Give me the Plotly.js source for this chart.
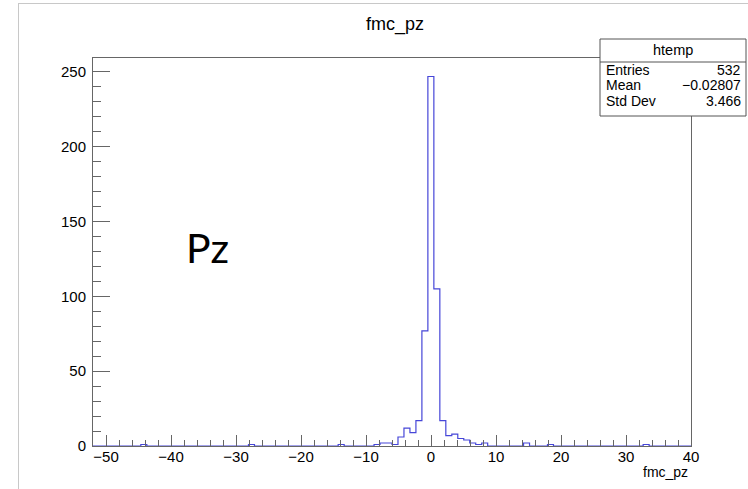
<!DOCTYPE html>
<html>
<head>
<meta charset="utf-8">
<script src="https://cdn.plot.ly/plotly-3.0.1.min.js"></script>
<style>
  html, body { margin: 0; padding: 0; background: #ffffff; }
  #wrap { position: absolute; left: 18px; top: 3px; width: 730px; height: 486px;
          border-left: 1px solid #c8c8c8; border-top: 1px solid #c8c8c8; }
  #chart { width: 729px; height: 485px; }
</style>
</head>
<body>
<div id="wrap"><div id="chart"></div></div>
<script>
// ---- Data (histogram htemp of fmc_pz, 100 bins) ----
const binLow = -52;
const binWidth = 0.92;
const binCounts = [
  0,0,0,0,0,0,0,0,1,0,
  0,0,0,0,0,0,0,0,0,0,
  0,0,0,0,0,0,1,0,0,0,
  0,0,0,0,0,0,0,0,0,0,
  0,1,0,0,0,0,0,1,2,2,
  1,6,12,9,17,77,247,105,17,7,
  8,5,4,2,1,2,0,0,0,0,
  0,0,2,0,0,0,1,0,0,0,
  0,0,0,0,0,0,0,0,0,0,
  0,0,1,0,0,0,0,0,0,0
];
const xTickVals = [-50, -40, -30, -20, -10, 0, 10, 20, 30, 40];
const yTickVals = [0, 50, 100, 150, 200, 250];
const statsLabels = ["Entries", "Mean", "Std Dev"];
const statsValues = ["532", "\u22120.02807", "3.466"];
const histName = "htemp";
const chartTitle = "fmc_pz";
const xTitle = "fmc_pz";
const overlayText = "Pz";

// ---- Step outline built from bins ----
const edges = binCounts.map((_, i) => binLow + i * binWidth);
edges.push(binLow + binCounts.length * binWidth);
const sx = [edges[0]], sy = [0];
binCounts.forEach((c, i) => { sx.push(edges[i]); sy.push(c); });
sx.push(edges[edges.length - 1]); sy.push(binCounts[binCounts.length - 1]);
sx.push(edges[edges.length - 1]); sy.push(0);

const ymax = Math.max(...binCounts) * 1.05;

// page-pixel -> paper helpers (plot area on page: x 93..691, y 58..446)
const PX0 = 93, PX1 = 691, PY0 = 58, PY1 = 446;
const xp = p => (p - PX0) / (PX1 - PX0);
const yp = p => (PY1 - p) / (PY1 - PY0);

const font = "'Liberation Sans', Arial, Helvetica, sans-serif";
const axisCol = "#666666";

const trace = {
  type: "scatter", mode: "lines", x: sx, y: sy,
  line: { shape: "hv", color: "#4646d8", width: 1.2 },
  hoverinfo: "skip", showlegend: false
};

// stats box geometry
const bx0 = 600, bx1 = 746, byTop = 39, bySep = 62, byBot = 116;
const rowY = [69.5, 85, 100.5];

const shapes = [
  { type: "rect", xref: "paper", yref: "paper", x0: xp(bx0), x1: xp(bx1), y0: yp(byBot), y1: yp(byTop),
    line: { color: "#555555", width: 1 }, fillcolor: "#ffffff", layer: "above" },
  { type: "line", xref: "paper", yref: "paper", x0: xp(bx0), x1: xp(bx1), y0: yp(bySep), y1: yp(bySep),
    line: { color: "#555555", width: 1 }, layer: "above" }
];

const annotations = [
  { text: chartTitle, xref: "paper", yref: "paper", x: xp(395), y: yp(24), showarrow: false,
    xanchor: "center", yanchor: "middle", font: { family: font, size: 18, color: "#000" } },
  { text: xTitle, xref: "paper", yref: "paper", x: xp(690), y: yp(472), showarrow: false,
    xanchor: "right", yanchor: "middle", font: { family: font, size: 14, color: "#000" } },
  { text: overlayText, xref: "paper", yref: "paper", x: xp(184), y: yp(247), showarrow: false,
    xanchor: "left", yanchor: "middle", font: { family: "Lato, 'Noto Sans', sans-serif", size: 41, color: "#000" } },
  { text: histName, xref: "paper", yref: "paper", x: xp((bx0 + bx1) / 2), y: yp(50), showarrow: false,
    xanchor: "center", yanchor: "middle", font: { family: font, size: 14.5, color: "#000" } }
];
statsLabels.forEach((lab, i) => {
  annotations.push({ text: lab, xref: "paper", yref: "paper", x: xp(bx0 + 4), y: yp(rowY[i]), showarrow: false,
    xanchor: "left", yanchor: "middle", font: { family: font, size: 14, color: "#000" } });
  annotations.push({ text: statsValues[i], xref: "paper", yref: "paper", x: xp(bx1 - 3), y: yp(rowY[i]), showarrow: false,
    xanchor: "right", yanchor: "middle", font: { family: font, size: 14, color: "#000" } });
});

const layout = {
  width: 729, height: 485,
  margin: { l: 74, r: 57, t: 54, b: 43, pad: 0 },
  paper_bgcolor: "#ffffff", plot_bgcolor: "#ffffff",
  showlegend: false,
  xaxis: {
    range: [binLow, binLow + binCounts.length * binWidth],
    tickmode: "array", tickvals: xTickVals,
    ticks: "inside", ticklen: 11, tickwidth: 1, tickcolor: axisCol,
    minor: { dtick: 2, tick0: 0, ticks: "inside", ticklen: 6, tickwidth: 1, tickcolor: axisCol, showgrid: false },
    showgrid: false, zeroline: false,
    showline: true, linecolor: axisCol, linewidth: 1, mirror: true,
    tickfont: { family: font, size: 15, color: "#000" },
    ticklabelstandoff: -3
  },
  yaxis: {
    range: [0, ymax],
    tickmode: "array", tickvals: yTickVals,
    ticks: "inside", ticklen: 17, tickwidth: 1, tickcolor: axisCol,
    minor: { dtick: 10, tick0: 0, ticks: "inside", ticklen: 8, tickwidth: 1, tickcolor: axisCol, showgrid: false },
    showgrid: false, zeroline: false,
    showline: true, linecolor: axisCol, linewidth: 1, mirror: true,
    tickfont: { family: font, size: 15, color: "#000" },
    ticklabelstandoff: 3
  },
  shapes: shapes,
  annotations: annotations
};

Plotly.newPlot("chart", [trace], layout, { displayModeBar: false, staticPlot: true });
</script>
</body>
</html>
